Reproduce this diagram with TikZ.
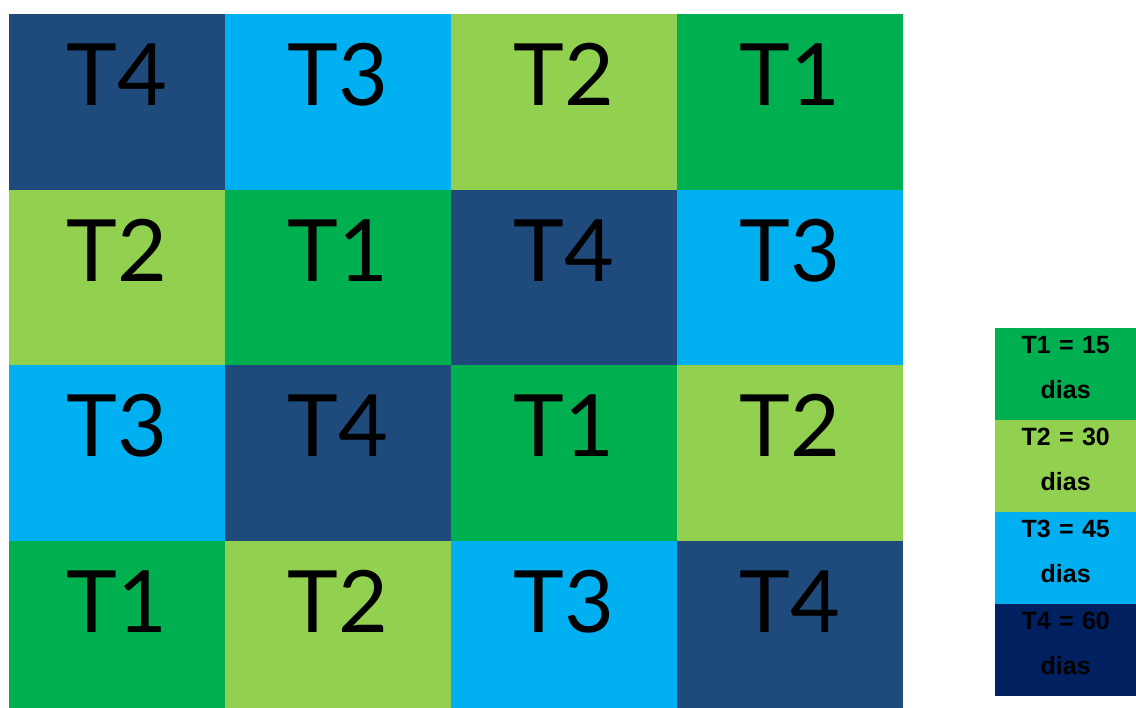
\documentclass[tikz,border=0pt]{standalone}
\usepackage{fontspec}
\newfontfamily\cellfamily{Lato}
\newfontfamily\keyfamily{Liberation Sans}
\definecolor{tonecol}{HTML}{00B050}
\definecolor{ttwocol}{HTML}{92D050}
\definecolor{tthreecol}{HTML}{00B0F0}
\definecolor{tfourcol}{HTML}{1F4A7C}
\definecolor{keyfourcol}{HTML}{002060}
\tikzset{
	cell/.style={anchor=north west,inner sep=0pt,minimum width=226pt,text height=91pt,text depth=85pt,font=\cellfamily\fontsize{86}{86}\selectfont},
	narrow/.style={minimum width=216pt},
	midrow/.style={text depth=84pt},
	lastrow/.style={text depth=76pt},
	tone/.style={fill=tonecol},
	ttwo/.style={fill=ttwocol},
	tthree/.style={fill=tthreecol},
	tfour/.style={fill=tfourcol},
	keybox/.style={anchor=north west,inner sep=0pt,text width=141pt,align=center,text height=25pt,text depth=67pt,font=\keyfamily\bfseries\fontsize{25}{45}\selectfont}
}
\begin{document}
\begin{tikzpicture}[x=1pt,y=-1pt]
	\useasboundingbox (0,0) rectangle (1136,708);
	\node[cell,narrow,tfour] (a1) at (9,14) {T4};
	\node[cell,tthree] (a2) at (225,14) {T3};
	\node[cell,ttwo] (a3) at (451,14) {T2};
	\node[cell,tone] (a4) at (677,14) {T1};
	\node[cell,midrow,narrow,ttwo] (b1) at (9,190) {T2};
	\node[cell,midrow,tone] (b2) at (225,190) {T1};
	\node[cell,midrow,tfour] (b3) at (451,190) {T4};
	\node[cell,midrow,tthree] (b4) at (677,190) {T3};
	\node[cell,narrow,tthree] (c1) at (9,365) {T3};
	\node[cell,tfour] (c2) at (225,365) {T4};
	\node[cell,tone] (c3) at (451,365) {T1};
	\node[cell,ttwo] (c4) at (677,365) {T2};
	\node[cell,narrow,lastrow,tone] (d1) at (9,541) {T1};
	\node[cell,lastrow,ttwo] (d2) at (225,541) {T2};
	\node[cell,lastrow,tthree] (d3) at (451,541) {T3};
	\node[cell,lastrow,tfour] (d4) at (677,541) {T4};
	\node[keybox,tone] (k1) at (995,328) {T1 = 15\\dias};
	\node[keybox,ttwo] (k2) at (995,420) {T2 = 30\\dias};
	\node[keybox,tthree] (k3) at (995,512) {T3 = 45\\dias};
	\node[keybox,fill=keyfourcol] (k4) at (995,604) {T4 = 60\\dias};
\end{tikzpicture}
\end{document}
